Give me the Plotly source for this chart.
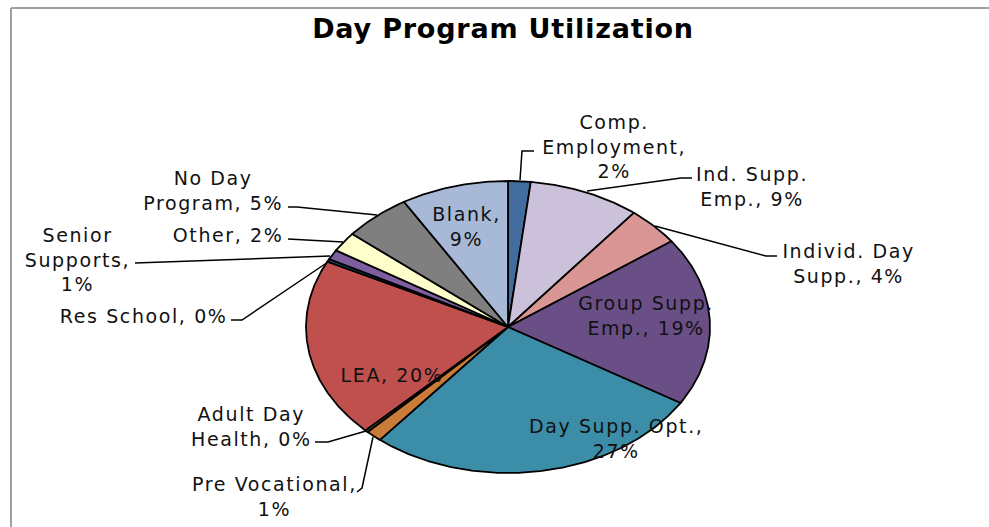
import numpy as np
import plotly.graph_objects as go

# ---- data ----
TITLE = "Day Program Utilization"
categories = ["Comp.<br>Employment,<br>", "Ind. Supp.<br>Emp., ", "Individ. Day<br>Supp., ",
              "Group Supp.<br>Emp., ", "Day Supp. Opt.,<br>", "Pre Vocational,<br>",
              "Adult Day<br>Health, ", "LEA, ", "Res School, ",
              "Senior<br>Supports,<br>", "Other, ", "No Day<br>Program, ", "Blank,<br>"]
shares = [1.8, 8.9, 4.3, 18.7, 27.2, 1.3, 0.25, 19.9, 0.3, 1.1, 2.2, 5.4, 8.6]

# ---- style and layout (separate from the data) ----
colors = ["#426D9E", "#CCC1DA", "#D99694", "#6A4F87", "#3C8DA8", "#C97B37", "#4F6228",
          "#C0504D", "#1F497D", "#7D5FA0", "#FFFFCC", "#7F7F7F", "#A8B9D7"]
CX, CY, RX, RY = 508, 327, 202, 146
label_xy = [(614, 146), (752, 186), (848, 263), (646, 315), (616, 438), (274, 496), (251, 426),
            (392, 375), (143, 316), (77, 259), (228, 235), (213, 190), (466, 226)]
leaders = [
    [(520, 180), (522, 151), (534, 151)],
    [(587, 191), (681, 178), (692, 178)],
    [(655, 226), (766, 256), (777, 256)],
    None, None,
    [(373, 437), (362, 488), (357, 492)],
    [(366, 431), (328, 442), (315, 442)],
    None,
    [(328, 262), (242, 320), (231, 320)],
    [(330, 256), (143, 263), (135, 263)],
    [(343, 242), (297, 239), (288, 239)],
    [(377, 215), (297, 207), (288, 207)],
    None,
]
FONT = "DejaVu Sans"

fig = go.Figure()
edges = np.cumsum([0] + shares) / sum(shares) * 2 * np.pi
for i, name in enumerate(categories):
    t = np.linspace(edges[i], edges[i + 1], max(3, int(shares[i] * 6)))
    xs = np.r_[CX, CX + RX * np.sin(t), CX]
    ys = np.r_[CY, CY - RY * np.cos(t), CY]
    fig.add_trace(go.Scatter(x=xs, y=ys, mode="lines", fill="toself", fillcolor=colors[i],
                             line=dict(color="black", width=1.8), hoverinfo="skip"))

for pts in leaders:
    if pts:
        fig.add_trace(go.Scatter(x=[p[0] for p in pts], y=[p[1] for p in pts], mode="lines",
                                 line=dict(color="black", width=1.5), hoverinfo="skip"))

for name, s, (x, y) in zip(categories, shares, label_xy):
    fig.add_annotation(x=x, y=y, xref="x", yref="y", text=f"{name}{round(s)}%", showarrow=False,
                       xanchor="center", yanchor="middle",
                       font=dict(family=FONT, size=19, color="#111111"))

# chart-area border: top and left edges only
fig.add_shape(type="line", xref="x", yref="y", x0=11, x1=989, y0=8, y1=8, line=dict(color="#A0A0A0", width=2))
fig.add_shape(type="line", xref="x", yref="y", x0=11, x1=11, y0=8, y1=527, line=dict(color="#A0A0A0", width=2))

fig.update_layout(
    width=989, height=527, margin=dict(l=0, r=0, t=0, b=0), showlegend=False,
    paper_bgcolor="white", plot_bgcolor="white",
    title=dict(text=f"<b>{TITLE}</b>", x=503 / 989, y=1 - 29 / 527, xanchor="center", yanchor="middle",
               font=dict(family=FONT, size=27, color="black")),
    xaxis=dict(range=[0, 989], visible=False, fixedrange=True),
    yaxis=dict(range=[527, 0], visible=False, fixedrange=True),
)

page_css = ("var s=document.createElement('style');"
            "s.textContent='html,body{margin:0;padding:0;overflow:hidden}"
            ".annotation-text{letter-spacing:1.6px}.gtitle{letter-spacing:0.8px}';"
            "document.head.appendChild(s);")
fig.write_html("out.html", post_script=page_css, config={"displayModeBar": False})
